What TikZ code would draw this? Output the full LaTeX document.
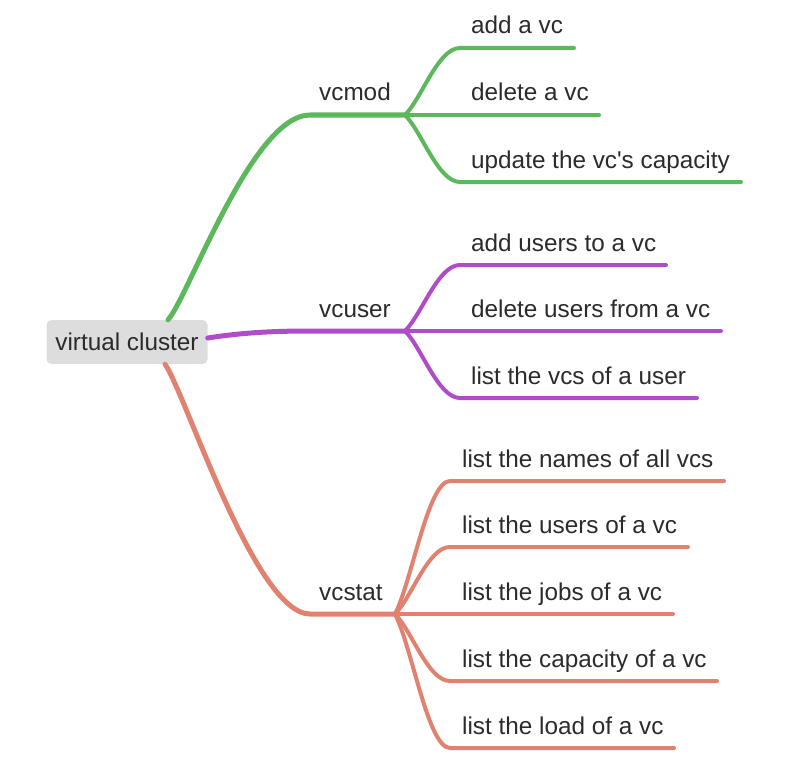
\documentclass[tikz,border=0pt]{standalone}
\usepackage{fontspec}
\setmainfont{Liberation Sans}
\definecolor{cgreen}{HTML}{5CB85C}
\definecolor{cpurple}{HTML}{B04CC8}
\definecolor{corange}{HTML}{E0826F}
\definecolor{ctext}{HTML}{2B2B2B}
\definecolor{croot}{HTML}{DDDDDD}
\begin{document}
\begin{tikzpicture}[x=1pt,y=-1pt,
  lbl/.style={anchor=base west, inner sep=0pt, font=\fontsize{24.3}{28}\selectfont, text=ctext},
  rootbox/.style={fill=croot, rounded corners=5pt, minimum width=161pt, minimum height=44pt, inner sep=0pt, font=\fontsize{24.3}{28}\selectfont, text=ctext},
  mainbr/.style={line width=5pt, line cap=round},
  subbr/.style={line width=4pt, line cap=round, line join=round}]
\useasboundingbox (0,0) rectangle (786,765);

% root
\node[rootbox] (root) at (127,342) {virtual cluster};

% junctions
\coordinate (jm) at (405,115);
\coordinate (ju) at (405,331);
\coordinate (js) at (395,614);

% main branches
\draw[mainbr, cgreen] ([xshift=41pt]root.north) .. controls (188,298) and (252,115) .. (310,115) -- (jm);
\draw[mainbr, cpurple] ([yshift=4pt]root.east) .. controls (240,333) and (270,331) .. (310,331) -- (ju);
\draw[mainbr, corange] ([xshift=38pt]root.south) .. controls (185,392) and (255,614) .. (310,614) -- (js);

\node[lbl] (vcmod) at (319,101) {vcmod};
\node[lbl] (vcuser) at (319,317) {vcuser};
\node[lbl] (vcstat) at (319,600) {vcstat};

% vcmod children
\coordinate (m1) at (460,48);  \coordinate (m1e) at (574,48);
\coordinate (m2e) at (599,115);
\coordinate (m3) at (460,182); \coordinate (m3e) at (741,182);
\draw[subbr, cgreen] (jm) .. controls +(17,-17) and +(-22,0) .. (m1) -- (m1e);
\draw[subbr, cgreen] (jm) -- (m2e);
\draw[subbr, cgreen] (jm) .. controls +(17,17) and +(-22,0) .. (m3) -- (m3e);
\node[lbl] (t1) at (471,34) {add a vc};
\node[lbl] (t2) at (471,101) {delete a vc};
\node[lbl] (t3) at (471,168) {update the vc\textquotesingle s capacity};

% vcuser children
\coordinate (u1) at (460,265); \coordinate (u1e) at (666,265);
\coordinate (u2e) at (721,331);
\coordinate (u3) at (460,398); \coordinate (u3e) at (697,398);
\draw[subbr, cpurple] (ju) .. controls +(17,-17) and +(-22,0) .. (u1) -- (u1e);
\draw[subbr, cpurple] (ju) -- (u2e);
\draw[subbr, cpurple] (ju) .. controls +(17,17) and +(-22,0) .. (u3) -- (u3e);
\node[lbl] (t4) at (471,251) {add users to a vc};
\node[lbl] (t5) at (471,317) {delete users from a vc};
\node[lbl] (t6) at (471,384) {list the vcs of a user};

% vcstat children
\coordinate (s1) at (450,481); \coordinate (s1e) at (724,481);
\coordinate (s2) at (450,547); \coordinate (s2e) at (688,547);
\coordinate (s3e) at (673,614);
\coordinate (s4) at (450,681); \coordinate (s4e) at (717,681);
\coordinate (s5) at (450,748); \coordinate (s5e) at (674,748);
\draw[subbr, corange] (js) .. controls +(17,-33) and +(-22,0) .. (s1) -- (s1e);
\draw[subbr, corange] (js) .. controls +(17,-17) and +(-22,0) .. (s2) -- (s2e);
\draw[subbr, corange] (js) -- (s3e);
\draw[subbr, corange] (js) .. controls +(17,17) and +(-22,0) .. (s4) -- (s4e);
\draw[subbr, corange] (js) .. controls +(17,33) and +(-22,0) .. (s5) -- (s5e);
\node[lbl] (t7) at (462,467) {list the names of all vcs};
\node[lbl] (t8) at (462,533) {list the users of a vc};
\node[lbl] (t9) at (462,600) {list the jobs of a vc};
\node[lbl] (t10) at (462,667) {list the capacity of a vc};
\node[lbl] (t11) at (462,734) {list the load of a vc};
\end{tikzpicture}
\end{document}
